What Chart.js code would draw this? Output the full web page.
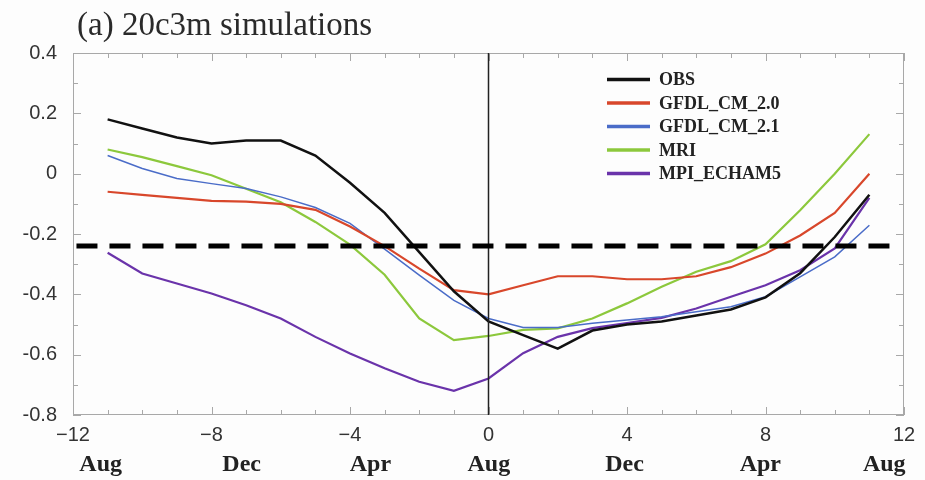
<!DOCTYPE html>
<html>
<head>
<meta charset="utf-8">
<script src="https://cdn.jsdelivr.net/npm/chart.js@4/dist/chart.umd.min.js"></script>
<style>
  html, body { margin: 0; padding: 0; background: #fdfdfd; }
  canvas { display: block; }
</style>
</head>
<body>
<canvas id="c" width="925" height="480"></canvas>
<script>
// ---- data ----
const lagMonths = [-11,-10,-9,-8,-7,-6,-5,-4,-3,-2,-1,0,1,2,3,4,5,6,7,8,9,10,11];
const OBS        = [0.18,0.15,0.12,0.10,0.11,0.11,0.06,-0.03,-0.13,-0.26,-0.39,-0.49,-0.535,-0.58,-0.52,-0.50,-0.49,-0.47,-0.45,-0.41,-0.33,-0.21,-0.07];
const GFDL_CM_20 = [-0.06,-0.07,-0.08,-0.09,-0.093,-0.10,-0.12,-0.175,-0.24,-0.315,-0.386,-0.40,-0.37,-0.34,-0.34,-0.35,-0.35,-0.34,-0.31,-0.265,-0.205,-0.13,0.0];
const GFDL_CM_21 = [0.06,0.017,-0.016,-0.033,-0.049,-0.077,-0.112,-0.165,-0.25,-0.336,-0.42,-0.48,-0.51,-0.51,-0.496,-0.485,-0.474,-0.458,-0.441,-0.408,-0.342,-0.276,-0.171];
const MRI        = [0.08,0.055,0.025,-0.005,-0.05,-0.095,-0.16,-0.235,-0.335,-0.48,-0.552,-0.538,-0.518,-0.513,-0.48,-0.43,-0.375,-0.325,-0.29,-0.234,-0.121,0.0,0.131];
const MPI_ECHAM5 = [-0.262,-0.331,-0.364,-0.397,-0.436,-0.48,-0.541,-0.596,-0.645,-0.69,-0.72,-0.679,-0.595,-0.541,-0.512,-0.495,-0.478,-0.447,-0.408,-0.37,-0.32,-0.248,-0.08];
const seriesNames = ['OBS','GFDL_CM_2.0','GFDL_CM_2.1','MRI','MPI_ECHAM5'];
const thresholdX = [-11.9, 11.7];
const thresholdY = [-0.24, -0.24];
const zeroLineX = [0, 0];
const zeroLineY = [-0.8, 0.4];
const xTickValues = [-12,-8,-4,0,4,8,12];
const xTickLabels = ['\u221212','\u22128','\u22124','0','4','8','12'];
const monthTickValues = [-11.2,-7.13,-3.41,0.01,3.93,7.85,11.43];
const monthLabels = ['Aug','Dec','Apr','Aug','Dec','Apr','Aug'];
const yTickLabels = {'-0.8':'-0.8','-0.6':'-0.6','-0.4':'-0.4','-0.2':'-0.2','0':'0','0.2':'0.2','0.4':'0.4'};
const titleText = '(a) 20c3m simulations';

const pts = (xs, ys) => xs.map((x, i) => ({x: x, y: ys[i]}));

const colors = ['#111111', '#d8472b', '#4a6cc8', '#8cc83c', '#6a33aa'];
const widths = [2.5, 2.2, 1.5, 2.2, 2.2];
const seriesVals = [OBS, GFDL_CM_20, GFDL_CM_21, MRI, MPI_ECHAM5];

const datasets = [
  { label: 'threshold', data: pts(thresholdX, thresholdY), borderColor: '#000', borderWidth: 5,
    borderDash: [21, 12], pointRadius: 0, legend: false, order: 0 },
  { label: 'zero', data: pts(zeroLineX, zeroLineY), borderColor: '#222', borderWidth: 1.5,
    pointRadius: 0, legend: false, order: 1 }
];
seriesNames.forEach((n, i) => {
  datasets.push({ label: n, data: pts(lagMonths, seriesVals[i]), borderColor: colors[i],
    borderWidth: widths[i], pointRadius: 0, tension: 0, legend: true, order: 2 + i });
});

const fmtX = v => { const i = xTickValues.indexOf(v); return i >= 0 ? xTickLabels[i] : ''; };
const fmtM = v => { const i = monthTickValues.indexOf(v); return i >= 0 ? monthLabels[i] : ''; };

const decorPlugin = {
  id: 'decor',
  beforeDatasetsDraw(chart) {
    const {ctx, chartArea: a, scales} = chart;
    ctx.save();
    ctx.strokeStyle = '#a8a8a8';
    ctx.lineWidth = 1;
    ctx.strokeRect(a.left + 0.5, a.top + 0.5, a.right - a.left - 1, a.bottom - a.top - 1);
    ctx.beginPath();
    for (let v = -12; v <= 12; v++) {
      const px = Math.round(scales.x.getPixelForValue(v)) + 0.5;
      const len = (v % 4 === 0) ? 8 : 5;
      ctx.moveTo(px, a.bottom); ctx.lineTo(px, a.bottom - len);
      ctx.moveTo(px, a.top); ctx.lineTo(px, a.top + len);
    }
    for (let k = -8; k <= 4; k++) {
      const py = Math.round(scales.y.getPixelForValue(k / 10)) + 0.5;
      const len = (k % 2 === 0) ? 8 : 5;
      ctx.moveTo(a.left, py); ctx.lineTo(a.left + len, py);
      ctx.moveTo(a.right, py); ctx.lineTo(a.right - len, py);
    }
    ctx.stroke();
    ctx.restore();
  },
  afterDraw(chart) {
    const {ctx} = chart;
    ctx.save();
    ctx.fillStyle = '#2a2a2a';
    ctx.font = '33px "Liberation Serif"';
    ctx.textBaseline = 'alphabetic';
    ctx.fillText(titleText, 77, 35);
    // legend
    let y = 79.5;
    chart.data.datasets.forEach(ds => {
      if (!ds.legend) return;
      ctx.strokeStyle = ds.borderColor;
      ctx.lineWidth = 3.5;
      ctx.beginPath();
      ctx.moveTo(607, y); ctx.lineTo(650, y);
      ctx.stroke();
      ctx.fillStyle = '#222';
      ctx.font = 'bold 18px "Liberation Serif"';
      ctx.textBaseline = 'middle';
      ctx.fillText(ds.label, 659, y + 1);
      y += 23.5;
    });
    ctx.restore();
  }
};

new Chart(document.getElementById('c'), {
  type: 'line',
  data: { datasets },
  options: {
    responsive: false,
    animation: false,
    layout: { padding: { top: 53, right: 21, bottom: 3, left: 0 } },
    plugins: { legend: { display: false }, tooltip: { enabled: false }, title: { display: false } },
    scales: {
      x: {
        type: 'linear', position: 'bottom', min: -12, max: 12,
        grid: { display: false, drawTicks: false }, border: { display: false },
        afterBuildTicks: s => { s.ticks = xTickValues.map(v => ({value: v})); },
        afterFit: s => { s.height = 33; },
        ticks: { callback: fmtX, color: '#333', padding: 8, maxRotation: 0, autoSkip: false,
                 font: { family: '"Liberation Sans"', size: 20 } }
      },
      x2: {
        type: 'linear', position: 'bottom', min: -12, max: 12,
        grid: { display: false, drawTicks: false }, border: { display: false },
        afterBuildTicks: s => { s.ticks = monthTickValues.map(v => ({value: v})); },
        afterFit: s => { s.height = 29; },
        ticks: { callback: fmtM, color: '#222', padding: 2, maxRotation: 0, autoSkip: false,
                 font: { family: '"Liberation Serif"', size: 24, weight: 'bold' } }
      },
      y: {
        type: 'linear', min: -0.8, max: 0.4,
        grid: { display: false, drawTicks: false }, border: { display: false },
        afterBuildTicks: s => { s.ticks = Object.keys(yTickLabels).map(k => ({value: parseFloat(k)})); },
        afterFit: s => { s.width = 73; },
        ticks: { callback: v => { const k = String(Math.round(v * 10) / 10); return yTickLabels[k] || ''; },
                 color: '#333', padding: 16, autoSkip: false,
                 font: { family: '"Liberation Sans"', size: 20 } }
      }
    }
  },
  plugins: [decorPlugin]
});
</script>
</body>
</html>
